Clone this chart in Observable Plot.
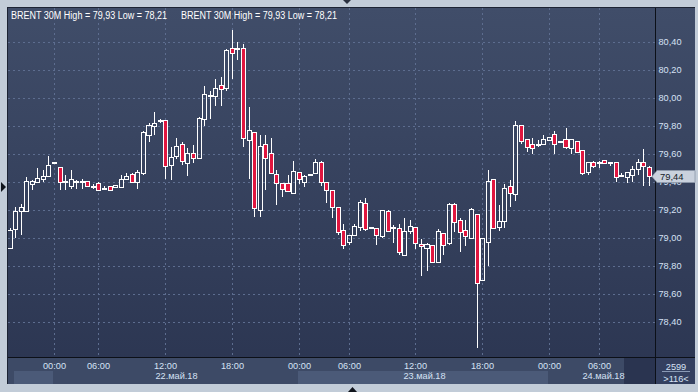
<!DOCTYPE html>
<html><head><meta charset="utf-8">
<script src="https://cdn.jsdelivr.net/npm/d3@7"></script>
<script src="https://cdn.jsdelivr.net/npm/@observablehq/plot@0.6"></script>
<style>
html,body{margin:0;padding:0;background:#c2ccd8;}
#wrap{position:relative;width:698px;height:392px;overflow:hidden;background:#c2ccd8;font-family:"Liberation Sans",Arial,sans-serif;}
#panel{position:absolute;left:7px;top:7px;width:688px;height:377px;box-sizing:border-box;border-left:1px solid #1c2333;border-top:1px solid #1c2333;background:linear-gradient(#404d69,#2b3551);}
.blk{position:absolute;}
#plotholder{position:absolute;left:0;top:0;}
#overlay{position:absolute;left:0;top:0;}
</style>
</head><body>
<div id="wrap">
  <div id="panel"></div>
  <div id="strips"></div>
  <div id="plotholder"></div>
  <svg id="overlay" width="698" height="392"></svg>
</div>
<script>
// ---------- data (30-minute candles, BRENT) ----------
const open  = [78.93,79.06,79.19,79.19,79.38,79.40,79.42,79.44,79.53,79.50,79.40,79.37,79.40,79.40,79.40,79.36,79.38,79.35,79.36,79.36,
               79.36,79.42,79.45,79.40,79.46,79.73,79.80,79.83,79.83,79.52,79.58,79.66,79.53,79.60,79.57,79.85,80.01,80.01,80.08,80.07,
               80.35,80.35,80.35,79.70,79.75,79.20,79.66,79.60,79.45,79.38,79.38,79.32,79.46,79.40,79.45,79.46,79.53,79.39,79.33,79.21,
               79.05,78.97,79.02,79.08,79.24,79.07,79.06,79.01,79.18,79.07,79.06,78.88,79.05,79.07,78.95,78.93,78.94,78.83,79.03,78.96,
               79.23,79.12,79.05,79.00,79.16,78.70,78.97,79.41,79.08,79.12,79.36,79.31,79.80,79.70,79.66,79.66,79.67,79.70,79.73,79.68,
               79.70,79.64,79.68,79.62,79.47,79.53,79.53,79.55,79.53,79.53,79.44,79.43,79.45,79.49,79.53,79.50];
const high  = [79.07,79.22,79.24,79.43,79.41,79.50,79.48,79.58,79.53,79.50,79.45,79.48,79.41,79.42,79.40,79.38,79.40,79.37,79.36,79.37,
               79.45,79.46,79.46,79.48,79.76,79.82,79.90,79.85,79.84,79.65,79.71,79.68,79.64,79.66,79.86,80.08,80.05,80.13,80.15,80.35,
               80.48,80.40,80.38,79.93,79.75,79.73,79.73,79.71,79.48,79.38,79.45,79.55,79.46,79.45,79.45,79.56,79.55,79.39,79.33,79.21,
               79.10,79.02,79.10,79.27,79.28,79.07,79.06,79.20,79.20,79.09,79.10,79.14,79.13,79.07,78.99,78.96,78.94,79.06,79.03,79.25,
               79.25,79.14,79.13,79.21,79.17,79.00,79.48,79.42,79.23,79.38,79.41,79.83,79.80,79.70,79.71,79.70,79.73,79.71,79.76,79.68,
               79.78,79.70,79.69,79.62,79.53,79.55,79.55,79.55,79.54,79.53,79.46,79.46,79.51,79.56,79.63,79.51];
const low   = [78.92,79.00,79.02,79.19,79.34,79.39,79.40,79.44,79.53,79.34,79.34,79.35,79.35,79.35,79.36,79.35,79.33,79.34,79.33,79.36,
               79.36,79.42,79.40,79.35,79.45,79.68,79.73,79.82,79.42,79.41,79.56,79.52,79.44,79.53,79.56,79.80,79.85,79.94,79.94,80.05,
               80.13,80.27,79.65,79.42,79.15,79.15,79.34,79.46,79.23,79.29,79.33,79.31,79.38,79.36,79.45,79.46,79.37,79.25,79.14,79.02,
               78.92,78.95,79.02,79.05,79.05,79.07,78.95,79.00,79.05,78.96,78.88,78.87,79.03,78.92,78.73,78.76,78.82,78.83,78.88,78.95,
               79.04,78.90,78.94,79.00,78.21,78.70,78.80,79.07,79.05,79.07,79.22,79.26,79.67,79.61,79.60,79.65,79.67,79.70,79.60,79.68,
               79.63,79.60,79.61,79.45,79.45,79.50,79.50,79.53,79.51,79.40,79.43,79.39,79.40,79.45,79.37,79.37];
const close = [79.05,79.18,79.21,79.40,79.40,79.42,79.43,79.51,79.53,79.40,79.40,79.41,79.40,79.40,79.37,79.36,79.34,79.35,79.34,79.37,
               79.41,79.43,79.40,79.46,79.75,79.80,79.81,79.83,79.51,79.57,79.65,79.55,79.60,79.57,79.85,80.02,80.01,80.06,80.06,80.33,
               80.32,80.35,79.71,79.76,79.21,79.65,79.57,79.46,79.39,79.35,79.33,79.47,79.42,79.43,79.45,79.53,79.40,79.34,79.22,79.04,
               78.95,79.01,79.08,79.25,79.06,79.07,79.02,79.19,79.05,79.07,78.90,79.04,79.08,78.96,78.94,78.95,78.83,79.04,78.95,79.23,
               79.11,79.04,79.01,79.20,78.68,78.99,79.40,79.07,79.11,79.35,79.32,79.80,79.69,79.65,79.64,79.66,79.70,79.71,79.67,79.68,
               79.65,79.70,79.61,79.46,79.53,79.51,79.53,79.53,79.53,79.43,79.44,79.46,79.48,79.53,79.51,79.44];

const yTicks = [78.4, 78.6, 78.8, 79.0, 79.2, 79.4, 79.6, 79.8, 80.0, 80.2, 80.4];
const timeTickIdx = [8, 16, 28, 40, 52, 61, 73, 85, 97, 106];
const timeLabels = ["00:00","06:00","12:00","18:00","00:00","06:00","12:00","18:00","00:00","06:00"];
const datePos = [29.9, 74.5, 106.7];
const dateLabels = ["22.май.18","23.май.18","24.май.18"];
const headerText = "BRENT 30M High = 79,93 Low = 78,21";
const barsInfo = ["2599", ">116<"];

// ---------- build ----------
const data = open.map((o, i) => ({i, o, h: high[i], l: low[i], c: close[i]}));
const up = data.filter(d => d.c >= d.o);
const down = data.filter(d => d.c < d.o);
const RED = "#e0163f";
const GRID = "#5d6d8f";
const TXT = "#d6e2f5";
const fmt = v => v.toFixed(2).replace(".", ",");
const timeMap = new Map(timeTickIdx.map((v, k) => [v, timeLabels[k]]));
const dateMap = new Map(datePos.map((v, k) => [v, dateLabels[k]]));

const plot = Plot.plot({
  width: 698, height: 392,
  marginLeft: 8, marginRight: 43, marginTop: 8, marginBottom: 35,
  style: {background: "transparent", fontFamily: "Liberation Sans, Arial, sans-serif", fontSize: "9.2px", color: TXT, overflow: "visible"},
  x: {type: "linear", domain: [-0.27, 116.097], round: true, axis: null},
  y: {domain: [78.14786, 80.64071], round: true, axis: null},
  marks: [
    Plot.gridY(yTicks, {stroke: GRID, strokeOpacity: 1, strokeDasharray: "2,3", shapeRendering: "crispEdges"}),
    Plot.gridX(timeTickIdx, {stroke: GRID, strokeOpacity: 1, strokeDasharray: "2,3", shapeRendering: "crispEdges"}),
    Plot.ruleX(data, {x: "i", y1: d => Math.max(d.o, d.c), y2: "h", stroke: "#ffffff", strokeWidth: 1, shapeRendering: "crispEdges", clip: true}),
    Plot.ruleX(data, {x: "i", y1: "l", y2: d => Math.min(d.o, d.c), stroke: "#ffffff", strokeWidth: 1, shapeRendering: "crispEdges", clip: true}),
    Plot.rect(up, {x1: d => d.i - 0.36, x2: d => d.i + 0.36, y1: "o", y2: "c", fill: "none", stroke: "#ffffff", strokeWidth: 1, insetTop: -0.5, insetBottom: -0.5, shapeRendering: "crispEdges", clip: true}),
    Plot.rect(down, {x1: d => d.i - 0.36, x2: d => d.i + 0.36, y1: "o", y2: "c", fill: RED, stroke: "#ffffff", strokeWidth: 1, insetTop: -0.5, insetBottom: -0.5, shapeRendering: "crispEdges", clip: true}),
    Plot.axisY(yTicks, {anchor: "right", tickSize: 0, tickPadding: 3, tickFormat: fmt, label: null, fill: TXT, fontSize: 9.2}),
    Plot.axisX(timeTickIdx, {anchor: "bottom", tickSize: 0, tickPadding: 5, tickFormat: d => timeMap.get(d), label: null, fill: TXT, fontSize: 9.2}),
    Plot.axisX(datePos, {anchor: "bottom", tickSize: 0, tickPadding: 15, tickFormat: d => dateMap.get(d), label: null, fill: TXT, fontSize: 9.2})
  ]
});
document.getElementById("plotholder").appendChild(plot);

const sx = plot.scale("x"), sy = plot.scale("y");
const X = v => sx.apply(v), Y = v => sy.apply(v);
const frameRight = 655, frameBottom = 357;

// bottom strip backgrounds (HTML)
const strips = document.getElementById("strips");
function blk(l, t, w, h, col) {
  const d = document.createElement("div");
  d.className = "blk";
  Object.assign(d.style, {left: l + "px", top: t + "px", width: w + "px", height: h + "px", background: col});
  strips.appendChild(d);
}
blk(8, frameBottom + 1, frameRight - 8, 26, "#3d4a66");
blk(X(0.8), 371, X(7.8) - X(0.8), 13, "#4b5a78");
blk(X(51.9), 371, X(96.9) - X(51.9), 13, "#4b5a78");
blk(X(110.5), frameBottom + 1, frameRight - X(110.5), 26, "#2a3450");
blk(frameRight + 1, frameBottom + 1, 695 - frameRight - 1, 26, "#344060");

// overlay: frame lines, header, price tag, UI arrows
const ns = "http://www.w3.org/2000/svg";
const ov = document.getElementById("overlay");
function el(name, attrs, text) {
  const e = document.createElementNS(ns, name);
  for (const k in attrs) e.setAttribute(k, attrs[k]);
  if (text != null) e.textContent = text;
  ov.appendChild(e);
  return e;
}
el("line", {x1: frameRight + 0.5, x2: frameRight + 0.5, y1: 8, y2: 384, stroke: "#0c1018"});
el("line", {x1: 8, x2: 695, y1: frameBottom + 0.5, y2: frameBottom + 0.5, stroke: "#0c1018"});
const fnt = "Liberation Sans, Arial, sans-serif";
el("text", {x: 11, y: 19, fill: "#ffffff", "font-family": fnt, "font-size": 10, textLength: 156, lengthAdjust: "spacingAndGlyphs"}, headerText);
el("text", {x: 181, y: 19, fill: "#ffffff", "font-family": fnt, "font-size": 10, textLength: 156, lengthAdjust: "spacingAndGlyphs"}, headerText);
// current price tag (covers the upper part of the 79,40 label, as in the original)
const last = close[close.length - 1];
const ty = Y(last) + 0.5;
el("polygon", {points: `${652},${ty} ${657},${ty - 6} ${695},${ty - 6} ${695},${ty + 6} ${657},${ty + 6}`, fill: "#c9d1dd", stroke: "#8e99ab", "stroke-width": 0.8});
el("text", {x: 660, y: ty + 3.5, fill: "#141a27", "font-family": fnt, "font-size": 9.4}, fmt(last));
// bars info cell
el("text", {x: 676, y: 369.5, fill: TXT, "font-family": fnt, "font-size": 9.2, "text-anchor": "middle"}, barsInfo[0]);
el("line", {x1: 662, x2: 690, y1: 371.5, y2: 371.5, stroke: "#8a9ab5"});
el("text", {x: 676, y: 381.5, fill: TXT, "font-family": fnt, "font-size": 9.2, "text-anchor": "middle"}, barsInfo[1]);
// ui arrows
el("polygon", {points: "1,182 6,187 1,192", fill: "#10141c"});
el("polygon", {points: "343,0 351,0 347,4", fill: "#2a3140"});
el("polygon", {points: "348,392 352.5,387 357,392", fill: "#10141c"});
</script>
</body></html>
